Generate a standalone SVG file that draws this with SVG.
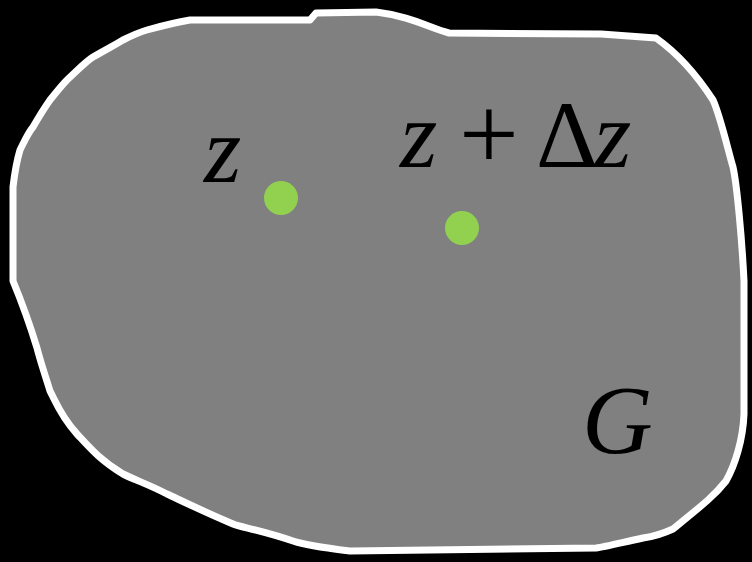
<svg xmlns="http://www.w3.org/2000/svg" width="752" height="562" viewBox="0 0 752 562">
<style>
.lbl{font-family:"Liberation Serif","Times New Roman",serif;fill:#000;}
.it{font-style:italic;}
.dot{fill:#92d050;}
</style>
<rect x="0" y="0" width="752" height="562" fill="#000"/>
<g id="region-G">
<path d="M190,20 L310,20 L316,13 L376,12 C410,16 430,28 449,33 L601,34 L656,38 C680,55 700,80 713,100 C720,115 728,150 733,167 C737,185 742,240 744,281 L744,414 C743,440 735,465 726,481 C715,495 705,503 673,529 C660,535 650,537 643,538 C620,543 605,547 596,548 L350,551 C320,547 305,545 293,541 C260,530 240,527 233,524 C200,510 180,500 167,494 C150,485 135,480 123,474 C100,460 90,448 77,434 C60,415 55,400 50,391 C45,375 40,360 37,348 C30,325 25,310 13,281 L13,187 C15,170 17,160 20,150 C25,140 28,133 33,127 C40,115 45,107 50,100 C58,90 62,85 67,80 C78,70 85,62 93,57 C105,50 115,45 123,40 C133,35 140,32 147,30 C165,25 178,22 190,20 Z" fill="#808080" stroke="#fff" stroke-width="7" stroke-linejoin="round"/>
<text class="lbl it" x="582" y="453" font-size="98">G</text>
</g>
<g id="point-z">
<circle class="dot" cx="281" cy="198" r="17"/>
<text class="lbl it" x="204" y="182" font-size="96">z</text>
</g>
<g id="point-z-dz">
<circle class="dot" cx="462" cy="228" r="17"/>
<text class="lbl" y="167" font-size="96"><tspan class="it" x="400">z</tspan><tspan x="459" y="170" font-size="106">+</tspan><tspan x="536" y="167">Δ</tspan><tspan class="it" x="594">z</tspan></text>
</g>
<g id="connectors"/>
</svg>
